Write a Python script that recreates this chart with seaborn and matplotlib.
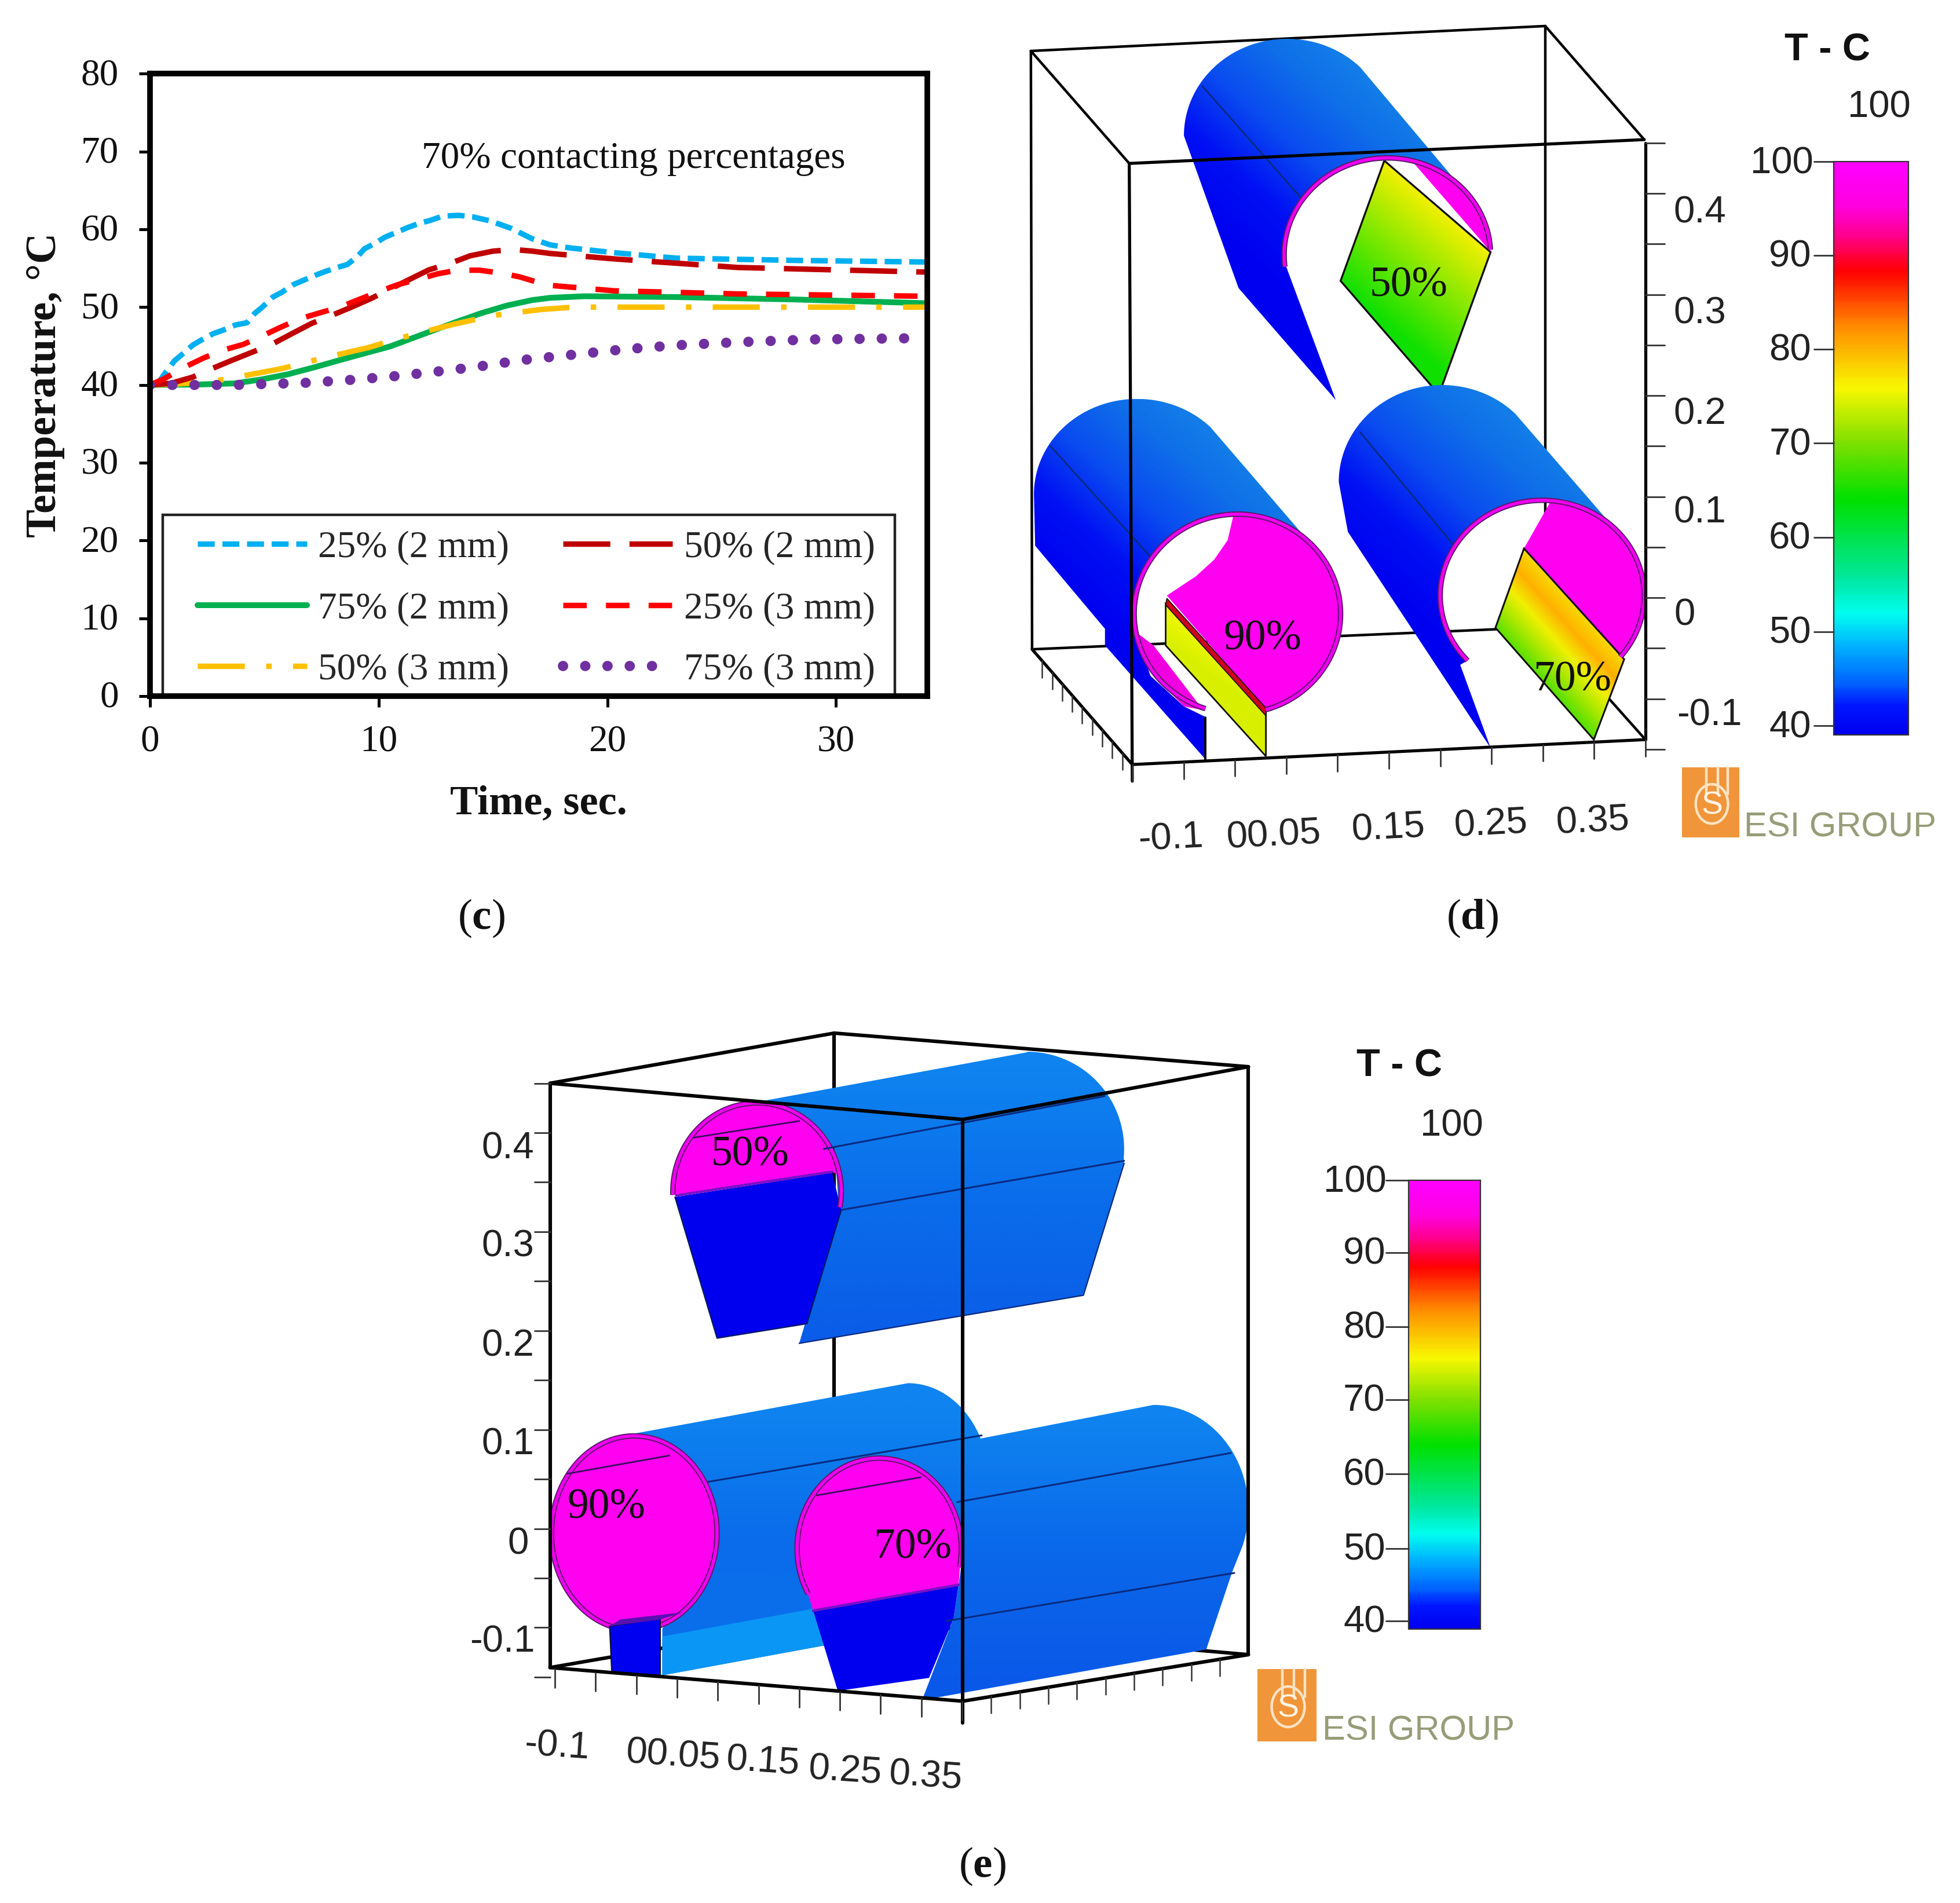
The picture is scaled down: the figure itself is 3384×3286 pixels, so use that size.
import itertools
import numpy as np
import pandas as pd
import matplotlib
matplotlib.use("Agg")
import matplotlib.pyplot as plt
from matplotlib.colors import LinearSegmentedColormap
from matplotlib.patches import Polygon, Rectangle
from matplotlib.transforms import ScaledTranslation
import seaborn as sns

sns.set_theme(style="white")
SERIF = "Liberation Serif"
SANS = "Liberation Sans"
plt.rcParams["font.family"] = [SERIF, "DejaVu Sans"]
plt.rcParams["mathtext.fontset"] = "custom"
plt.rcParams["mathtext.rm"] = SERIF
plt.rcParams["mathtext.bf"] = SERIF + ":bold"

# ---------- line chart data (panel c) ----------
t_25_2 = [0.3, 0.68, 1.07, 1.47, 1.86, 2.2, 2.77, 3.16, 3.73, 4.24, 4.58, 4.91, 5.37, 5.76, 6.27, 6.67, 7.23, 7.68,
          8.19, 8.64, 9.1, 9.38, 9.89, 10.28, 10.85, 11.24, 11.8, 12.2, 12.8, 13.5, 14.12, 14.86, 15.82, 16.7, 17.5,
          18.4, 20.3, 23, 28.4, 34]
T_25_2 = [40, 41.6, 43.1, 44.1, 45.1, 45.7, 46.6, 47.0, 47.7, 48.0, 49.2, 50.0, 51.3, 51.9, 52.9, 53.4, 54.1, 54.6,
          55.1, 55.5, 56.6, 57.5, 58.3, 59.0, 59.7, 60.2, 60.8, 61.1, 61.7, 61.8, 61.6, 61.1, 60.1, 58.8, 58.0,
          57.6, 57.0, 56.3, 56, 55.8]
t_50_2 = [0, 0.9, 1.86, 2.71, 3.61, 4.46, 5.31, 6.21, 7.06, 7.91, 8.81, 9.66, 10.96, 12.2, 13.1, 14, 15, 15.93,
          16.72, 17.5, 20.3, 25.7, 34]
T_50_2 = [40, 40.2, 41, 42.1, 43.2, 44.2, 45.2, 46.6, 47.9, 48.9, 50, 51.1, 53, 54.8, 55.6, 56.6, 57.2, 57.4,
          57.2, 56.9, 56.2, 55.1, 54.5]
t_25_3 = [0, 0.62, 1.52, 2.37, 3.22, 4.07, 4.91, 5.7, 6.55, 7.46, 8.3, 9.15, 10, 10.85, 11.75, 12.6, 13.45, 14.4,
          15.3, 16.15, 17.06, 17.5, 20.3, 25.7, 34]
T_25_3 = [40, 40.8, 42.3, 43.5, 44.5, 45.2, 46.3, 47.4, 48.5, 49.3, 50, 51, 52, 52.9, 53.6, 54.3, 54.75, 54.75,
          54.4, 53.9, 53.1, 52.8, 52.1, 51.7, 51.4]
t_75_2 = [0, 2.03, 3.7, 4.86, 6, 7.1, 8.8, 10.5, 12.2, 13.3, 14.46, 15.6, 16.7, 17.5, 19, 23, 28, 34]
T_75_2 = [40, 40.05, 40.2, 40.7, 41.35, 42.2, 43.6, 44.95, 46.8, 48, 49.2, 50.2, 50.9, 51.2, 51.4, 51.3, 51, 50.5]
t_50_3 = [0, 1.35, 2.82, 3.78, 5.76, 6.67, 7.63, 9.55, 10.45, 11.4, 13.28, 14.2, 15.2, 17.1, 18.5, 20.3, 34]
T_50_3 = [40, 40.15, 40.5, 41, 42.1, 42.8, 43.5, 44.8, 45.6, 46.4, 47.8, 48.4, 49, 49.7, 50, 50, 50]
t_75_3 = [0, 3.8, 4.74, 6.64, 8.55, 10.45, 12.34, 14.22, 16.13, 17.06, 20.8, 23, 25.7, 29, 33.2]
T_75_3 = [40, 40, 40.1, 40.25, 40.6, 41.05, 41.65, 42.3, 43.15, 43.45, 44.6, 45.1, 45.5, 45.85, 46]
y_ticks = [0, 10, 20, 30, 40, 50, 60, 70, 80]
x_ticks = [0, 10, 20, 30]
z_tick_labels = ["0.4", "0.3", "0.2", "0.1", "0", "-0.1"]
x3d_tick_labels = ["-0.1", "00.05", "0.15", "0.25", "0.35"]
cbar_tick_labels = ["100", "90", "80", "70", "60", "50", "40"]
pct_labels = ["50%", "90%", "70%"]

W, H = 3384, 3286
fig = plt.figure(figsize=(W / 200, H / 200), dpi=200, facecolor="white")
SH = 3384 / 1568


def full_axes(x, y, w, h):
    return fig.add_axes([x / W, 1 - (y + h) / H, w / W, h / H])


# ---------- panel c ----------
ax = full_axes(120 * SH, 59 * SH, 622 * SH, 498 * SH)
series = [
    ("25% (2 mm)", t_25_2, T_25_2, "#00b0f0", (0, (3.1, 1.4)), 3.4),
    ("75% (2 mm)", t_75_2, T_75_2, "#00b050", "-", 3.6),
    ("50% (3 mm)", t_50_3, T_50_3, "#ffc000", (0, (8.6, 3.9, 1.0, 3.9)), 3.4),
    ("50% (2 mm)", t_50_2, T_50_2, "#c00000", (0, (8.6, 3.5)), 3.4),
    ("25% (3 mm)", t_25_3, T_25_3, "#ff0000", (0, (4.3, 3.5)), 3.4),
    ("75% (3 mm)", t_75_3, T_75_3, "#7030a0", (0, (0.01, 2.15)), 6.4),
]
for label_txt, xs, ys, color, ls, lw in series:
    df = pd.DataFrame({"t": xs, "T": ys})
    line = sns.lineplot(data=df, x="t", y="T", ax=ax, color=color, linestyle=ls,
                        linewidth=lw, label=label_txt, estimator=None)
    line.get_lines()[-1].set_dash_capstyle("round" if "75% (3" in label_txt else "butt")
ax.set_xlim(0, 34)
ax.set_ylim(0, 80)
ax.set_xticks(x_ticks)
ax.set_yticks(y_ticks)
ax.tick_params(axis="both", which="major", direction="out", length=7, width=1.8,
               color="black", labelsize=23.5, labelcolor="#111111", bottom=True, left=True)
ax.tick_params(axis="y", pad=12.5)
ax.tick_params(axis="x", pad=10.5)
for tl in ax.get_yticklabels():
    tl.set_transform(tl.get_transform() + ScaledTranslation(0, 1.4 / 72, fig.dpi_scale_trans))
for s in ax.spines.values():
    s.set_visible(True)
    s.set_color("black")
    s.set_linewidth(3.5)
ax.set_xlabel("")
ax.set_ylabel("")
ax.grid(False)
ax.add_patch(Rectangle((10 / 622, 0), 586 / 622, 145 / 498, transform=ax.transAxes, fc="white",
                       ec="#222222", lw=1.6, zorder=0.5))
leg = ax.legend(loc="lower left", bbox_to_anchor=(37.8 / 622, 7 / 498), borderaxespad=0, ncol=2,
                fontsize=23.5, handlelength=2.9, handletextpad=0.3, labelspacing=0.7,
                columnspacing=1.42, frameon=False, borderpad=0)
ax.text((507 - 120) / 622, (557 - 127) / 498, "70% contacting percentages", transform=ax.transAxes,
        ha="center", va="center", fontsize=23.5, color="#111111")
fig.text(36 / 1568, 1 - 308 / 1523, "Temperature, °C", rotation=90, ha="center", va="center",
         fontsize=26.4, fontweight="bold", color="#111111")
fig.text(431 / 1568, 1 - 643 / 1523, "Time, sec.", ha="center", va="center",
         fontsize=26, fontweight="bold", color="#111111")
for txt, px, py in [("c", 385, 735), ("d", 1178, 735), ("e", 786, 1494)]:
    fig.text(px / 1568, 1 - py / 1523, r"($\mathbf{%s}$)" % txt, ha="center", va="center",
             fontsize=27, color="#111111")

# ---------- helpers for the rendered 3D panels ----------
Z = itertools.count(2)
RAINBOW = [(0, "#0000f0"), (.05, "#0018ff"), (.085, "#0060ff"), (.15, "#00b0ff"), (.21, "#00fff0"),
           (.27, "#00e8a0"), (.41, "#00e000"), (.51, "#80e000"), (.605, "#f8f800"), (.71, "#ff9000"),
           (.81, "#ff0000"), (.875, "#ff0090"), (.925, "#ff00e0"), (1, "#ff00ff")]
BLUE_D = ["#1484e8", "#0f6ee8", "#0a4cf0", "#0010f4", "#0000f0"]


def panel_axes(x, y, w, h):
    a = full_axes(x, y, w, h)
    a.set_xlim(0, 1568)
    a.set_ylim(1568, 0)
    a.set_autoscale_on(False)
    a.axis("off")
    a.patch.set_alpha(0)
    return a


def arc(cx, cy, rx, ry, a0, a1, n=60):
    ang = np.radians(np.linspace(a0, a1, n))
    return list(zip(cx + rx * np.cos(ang), cy + ry * np.sin(ang)))


def grad(a, verts, p0, p1, colors, edge=None, lw=1.0):
    v = np.array(verts, dtype=float)
    x0, y0 = v.min(axis=0)
    x1, y1 = v.max(axis=0)
    X, Y = np.meshgrid(np.linspace(x0, x1, 220), np.linspace(y0, y1, 220))
    d = np.array(p1, float) - np.array(p0, float)
    t = np.clip(((X - p0[0]) * d[0] + (Y - p0[1]) * d[1]) / (d @ d), 0, 1)
    cmap = LinearSegmentedColormap.from_list("g", colors)
    z = next(Z)
    im = a.imshow(t, extent=(x0, x1, y1, y0), origin="upper", cmap=cmap, vmin=0, vmax=1,
                  aspect="auto", zorder=z, interpolation="bilinear")
    clip = Polygon(v, closed=True, transform=a.transData, fc="none", ec="none")
    a.add_patch(clip)
    im.set_clip_path(clip)
    if edge:
        a.add_patch(Polygon(v, closed=True, fc="none", ec=edge, lw=lw, zorder=next(Z)))


def poly(a, verts, fc, ec=None, lw=1.0):
    a.add_patch(Polygon(verts, closed=True, fc=fc, ec=ec if ec else "none", lw=lw, zorder=next(Z)))


def seg(a, pts, lw=1.6, color="black"):
    p = np.array(pts)
    a.plot(p[:, 0], p[:, 1], color=color, lw=lw, zorder=next(Z), solid_capstyle="round")


def ring(a, cx, cy, rx, ry, a0, a1):
    p = np.array(arc(cx, cy, rx, ry, a0, a1, 120))
    a.plot(p[:, 0], p[:, 1], color="#5a1a6a", lw=3.4, zorder=next(Z), solid_capstyle="butt")
    a.plot(p[:, 0], p[:, 1], color="#f000f0", lw=2.0, zorder=next(Z), solid_capstyle="butt")


def label(a, x, y, s, size=23.5, fam=SANS, color="#222222", rot=0, **kw):
    a.text(x, y + 6, s, ha="center", va="center", fontsize=size, family=fam, color=color,
           rotation=rot, zorder=next(Z), **kw)


def colorbar(a, x0, x1, y0, y1, tick_ys, lab_x, head, top):
    grad(a, [(x0, y0), (x1, y0), (x1, y1), (x0, y1)], (x0, y1), (x0, y0), RAINBOW, edge="#333333", lw=0.8)
    for s, ty in zip(cbar_tick_labels, tick_ys):
        seg(a, [(x0 - 32, ty), (x0, ty)], lw=1.0, color="#333333")
        label(a, lab_x - (13 if s == "100" else 0), ty - 3, s)
    label(a, head[0], head[1], "T - C", size=24, fontweight="bold", color="#111111")
    label(a, top[0], top[1], "100")


def logo(a, x0, x1, y0, y1, tx, ty):
    poly(a, [(x0, y0), (x1, y0), (x1, y1), (x0, y1)], "#f0953a")
    w = x1 - x0
    h = y1 - y0
    for f in (0.42, 0.62, 0.8):
        seg(a, [(x0 + f * w, y0), (x0 + f * w, y0 + .38 * h)], lw=1.6, color="#fbe3c4")
    p = np.array(arc(x0 + .52 * w, y0 + .52 * h, .28 * w, .28 * h, 0, 360))
    a.plot(p[:, 0], p[:, 1], color="#fbe3c4", lw=1.6, zorder=next(Z))
    label(a, x0 + .52 * w, y0 + .55 * h - 6, "S", size=20, color="#fff4e4")
    a.text(tx, ty, "ESI GROUP", ha="left", va="baseline", fontsize=21.5,
           family=SANS, color="#989c78", zorder=next(Z))


# ---------- panel d ----------
d = panel_axes(1740, 0, 1644, 1500)
for pts in ([(38, 92), (885, 47)], [(885, 47), (1048, 252)], [(38, 92), (200, 295)], [(38, 92), (40, 1172)],
            [(885, 47), (885, 1132)], [(40, 1172), (885, 1132)], [(885, 1132), (1050, 1335)]):
    seg(d, pts)


def cyl_d(bc, front, low, crease, end_angle):
    fc, frx, fry = front
    verts = arc(bc[0], bc[1], bc[2], bc[3], -180, -45) + arc(fc[0], fc[1], frx, fry, -45, end_angle) + low
    grad(d, verts, (bc[0] + 150, bc[1] - 130), (bc[0] - 130, bc[1] + 160), BLUE_D)
    seg(d, crease, lw=1.0, color="#0a2a80")


# top cylinder (50 %)
cyl_d((460, 245, 170, 175), ((625, 460), 170, 175), [(458, 480), (540, 722), (380, 520)],
      [(320, 155), (485, 360)], -180)
grad(d, [(620, 290), (795, 455), (710, 712), (548, 507)], (700, 370), (557, 522),
     ["#f0f000", "#80e800", "#10e000"], edge="#101010", lw=1.2)
poly(d, arc(625, 460, 170, 175, -76, -2) + [(665, 290)], "#ff00f0")
ring(d, 625, 460, 170, 175, 173, 357)

# lower left cylinder (90 %)
cyl_d((213, 892, 170, 172), ((378, 1108), 170, 180),
      [(210, 1140), (235, 1220), (290, 1275), (327, 1295), (325, 1370), (160, 1165), (160, 1135), (45, 985)],
      [(70, 805), (235, 1005)], -200)
poly(d, arc(378, 1108, 170, 180, -92, 74) + [(425, 1280), (262, 1075), (310, 1040), (340, 1010), (362, 975)], "#ff00f0")
poly(d, [(210, 1140), (240, 1165), (322, 1282), (290, 1275), (240, 1220)], "#f000e0")
grad(d, [(260, 1090), (425, 1285), (425, 1365), (260, 1165)], (300, 1190), (350, 1130),
     ["#d8f000", "#ffff00"], edge="#101010", lw=1.0)
poly(d, [(262, 1080), (425, 1278), (425, 1292), (260, 1092)], "#d00020", ec="#101010", lw=0.6)
seg(d, [(325, 1295), (325, 1370)], lw=1.4)
ring(d, 378, 1108, 170, 180, 108, 434)

# lower right cylinder (70 %)
cyl_d((715, 870, 170, 175), ((880, 1075), 168, 172),
      [(745, 1200), (795, 1350), (560, 960)], [(580, 780), (735, 985)], -223)
poly(d, arc(880, 1075, 168, 172, -85, 40) + [(1015, 1190), (850, 990)], "#ff00f0")
grad(d, [(850, 990), (1015, 1190), (965, 1335), (803, 1133)], (930, 1090), (832, 1171),
     ["#f8d800", "#ffb000", "#f0f000", "#a8e800", "#58e000"], edge="#101010", lw=1.1)
ring(d, 880, 1075, 168, 172, 137, 400)

# front box edges, ticks and labels
for pts in ([(200, 295), (1048, 252)], [(200, 295), (205, 1410)], [(205, 1380), (1050, 1335)],
            [(40, 1172), (205, 1380)], [(1050, 258), (1050, 1335)]):
    seg(d, pts, lw=1.9)
for i in range(11):
    tx = 205 + i * 84.5
    ty = 1380 - i * 4.5
    seg(d, [(tx, ty), (tx, ty + 30)], lw=1.0, color="#333333")
for i in range(1, 10):
    tx = 40 + i * 16.5
    ty = 1172 + i * 20.8
    seg(d, [(tx, ty), (tx, ty + 30)], lw=0.9, color="#333333")
for i in range(13):
    ty = 258 + i * 91.2
    seg(d, [(1050, ty), (1082, ty)], lw=1.0, color="#333333")
for s, (px, py) in zip(z_tick_labels, [(1140, 378), (1140, 560), (1140, 742), (1140, 920), (1115, 1105), (1155, 1285)]):
    label(d, px, py, s)
for s, (px, py) in zip(x3d_tick_labels, [(268, 1508), (438, 1503), (627, 1490), (795, 1483), (963, 1478)]):
    label(d, px, py, s, rot=3)
for s, (px, py) in zip(pct_labels, [(660, 510), (420, 1148), (930, 1222)]):
    label(d, px, py, s, size=26.5, fam=SERIF, color="#101010")
colorbar(d, 1360, 1483, 292, 1327, [292, 461, 630, 800, 970, 1140, 1310], 1288, (1350, 85), (1435, 188))
logo(d, 1110, 1205, 1385, 1512, 1212, 1510)

# ---------- panel e ----------
e = panel_axes(780, 1750, 1900, 1400)
BODY_E = ["#0f84f0", "#0a68ea", "#0a58e8"]
for pts in ([(140, 135), (545, 38)], [(545, 38), (1135, 103)], [(545, 38), (545, 1170)],
            [(140, 1265), (545, 1170)], [(545, 1170), (1135, 1240)]):
    seg(e, pts, lw=2.2)

# lower left cylinder (90 %)
grad(e, [(250, 815), (650, 715)] + arc(650, 905, 115, 190, -90, -25) +
     [(560, 1215), (300, 1280), (300, 1190), (380, 1005), (340, 880)], (500, 760), (500, 1280),
     ["#0f84f0", "#0a6cea", "#0a70ec"])
poly(e, [(300, 1205), (560, 1140), (560, 1215), (300, 1280)], "#0a96f5")
seg(e, [(360, 907), (755, 816)], lw=1.1, color="#0a2a80")
poly(e, arc(260, 1005, 118, 188, 0, 360), "#ff00f0", ec="#5a1a6a", lw=1.0)
ring(e, 260, 1005, 118, 188, 0, 360)
seg(e, [(165, 890), (310, 855)], lw=1.0, color="#3a1060")
poly(e, [(225, 1185), (297, 1170), (297, 1280), (228, 1275)], "#0000f0", ec="#101030", lw=0.8)
poly(e, [(225, 1185), (240, 1172), (330, 1158), (297, 1172)], "#5a10b0")

# lower right cylinder (70 %)
grad(e, [(610, 860), (1000, 757)] + arc(1000, 960, 135, 203, -90, 20) +
     [(1112, 1080), (1075, 1230), (670, 1328), (715, 1170), (728, 1050), (690, 920)], (850, 780), (850, 1300), BODY_E)
poly(e, arc(609, 1035, 117, 175, -190, 5) + [(722, 1105), (515, 1155)], "#ff00f0")
poly(e, [(515, 1155), (722, 1105), (715, 1170), (680, 1285), (550, 1310)], "#0000ee")
seg(e, [(515, 1155), (722, 1105)], lw=1.6, color="#7a10c8")
ring(e, 609, 1035, 117, 175, 150, 372)
seg(e, [(520, 932), (668, 897)], lw=1.0, color="#3a1060")
seg(e, [(720, 945), (1110, 850)], lw=1.1, color="#0a2a80")
seg(e, [(705, 1175), (1115, 1082)], lw=1.1, color="#0a2a80")

# top cylinder (50 %)
grad(e, [(440, 170), (820, 75)] + arc(820, 262, 138, 188, -90, 5) +
     [(958, 290), (900, 545), (495, 638), (552, 380), (545, 260)], (700, 100), (700, 640),
     ["#0f84f0", "#0a6cea", "#0a5ce8"])
poly(e, arc(435, 345, 120, 172, -178, -10) + [(542, 306), (320, 352)], "#ff00f0")
poly(e, [(318, 355), (542, 308), (555, 380), (506, 600), (378, 628)], "#0000ee")
seg(e, [(320, 352), (542, 306)], lw=1.6, color="#7a10c8")
ring(e, 435, 345, 120, 172, 178, 370)
seg(e, [(345, 240), (495, 208)], lw=1.0, color="#3a1060")
seg(e, [(530, 262), (930, 160)], lw=1.1, color="#0a2a80")
seg(e, [(555, 380), (958, 285)], lw=1.1, color="#0a2a80")
seg(e, [(318, 355), (378, 628), (506, 600), (555, 380)], lw=0.8, color="#0a1a60")
seg(e, [(495, 638), (900, 545), (958, 290)], lw=0.8, color="#0a2a80")

# front box edges, ticks and labels
for pts in ([(140, 135), (728, 205)], [(728, 205), (1135, 103)], [(728, 205), (728, 1372)], [(140, 135), (140, 1265)],
            [(1135, 103), (1135, 1240)], [(140, 1265), (728, 1330)], [(728, 1330), (1135, 1240)]):
    seg(e, pts, lw=2.2)
for i in range(11):
    tx = 147 + i * 58
    ty = 1268 + i * 6.2
    seg(e, [(tx, ty), (tx, ty + 36)], lw=1.0, color="#333333")
for i in range(1, 10):
    tx = 728 + i * 40.7
    ty = 1330 - i * 9
    seg(e, [(tx, ty), (tx, ty + 32)], lw=0.9, color="#333333")
for i in range(13):
    ty = 135 + i * 95.7
    seg(e, [(118, ty), (140, ty)], lw=1.0, color="#333333")
for s, (px, py) in zip(z_tick_labels, [(80, 255), (80, 445), (80, 637), (80, 828), (95, 1020), (72, 1210)]):
    label(e, px, py, s)
for s, (px, py) in zip(x3d_tick_labels, [(150, 1412), (315, 1430), (443, 1442), (560, 1460), (675, 1470)]):
    label(e, px, py, s, rot=-4)
for s, (px, py) in zip(pct_labels, [(425, 268), (220, 950), (657, 1028)]):
    label(e, px, py, s, size=26.5, fam=SERIF, color="#101010")
colorbar(e, 1363, 1466, 323, 1190, [323, 462, 606, 747, 890, 1035, 1175], 1300, (1350, 97), (1425, 212))
logo(e, 1148, 1232, 1268, 1408, 1240, 1405)

fig.savefig("out.png", dpi=200, facecolor="white")
